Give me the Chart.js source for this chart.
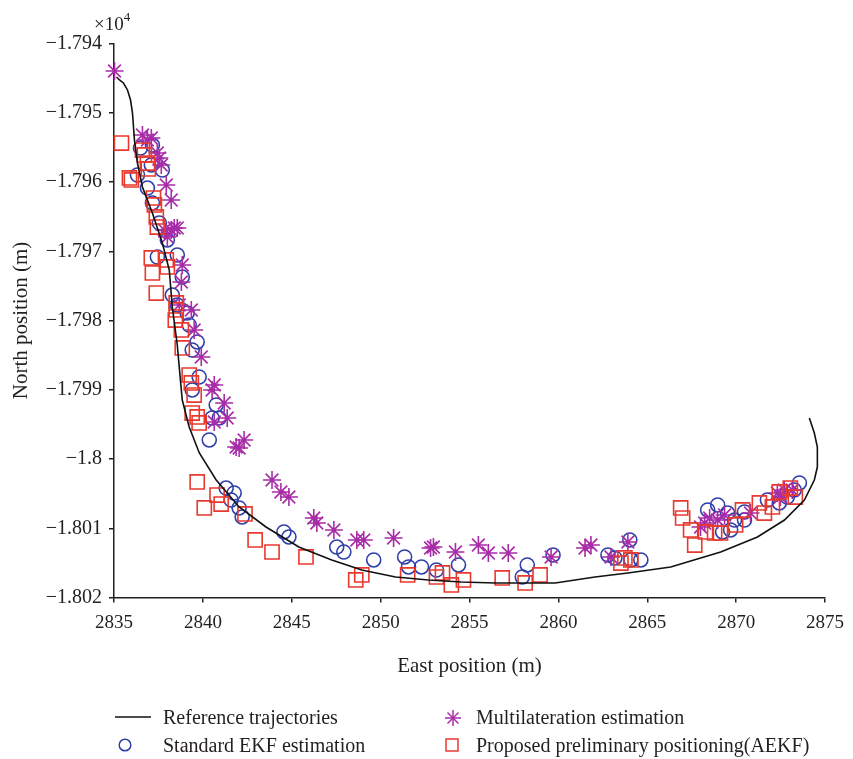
<!DOCTYPE html>
<html>
<head>
<meta charset="utf-8">
<title>Positioning estimates</title>
<script src="https://cdn.jsdelivr.net/npm/chart.js@4"></script>
<style>
  html, body { margin: 0; padding: 0; background: #fff; }
  #wrap { position: relative; width: 853px; height: 759px; font-family: "Liberation Serif", serif; color: #231f20; }
  #plot { position: absolute; left: 0; top: 0; }
  .exp { position: absolute; left: 94px; top: 8px; font-size: 19px; line-height: 22px; }
  .exp sup { font-size: 13px; position: relative; top: -2px; }
  .leg { position: absolute; font-size: 20px; line-height: 20px; white-space: nowrap; }
  .icon { position: absolute; }
</style>
</head>
<body>
<div id="wrap">
  <canvas id="plot" width="853" height="759"></canvas>
  <div class="exp">×10<sup>4</sup></div>

  <svg class="icon" style="left:114px;top:710px" width="38" height="14"><line x1="1" y1="7" x2="37" y2="7" stroke="#111" stroke-width="1.6"/></svg>
  <div class="leg" style="left:163px;top:707px">Reference trajectories</div>

  <svg class="icon" style="left:443px;top:708px" width="20" height="20">
    <g stroke="#a82ca8" stroke-width="1.5"><line x1="10" y1="2" x2="10" y2="18"/><line x1="2" y1="10" x2="18" y2="10"/><line x1="4.5" y1="4.5" x2="15.5" y2="15.5"/><line x1="15.5" y1="4.5" x2="4.5" y2="15.5"/></g>
  </svg>
  <div class="leg" style="left:476px;top:707px">Multilateration estimation</div>

  <svg class="icon" style="left:116px;top:736px" width="18" height="18"><circle cx="9" cy="9" r="5.8" fill="none" stroke="#2f3fa8" stroke-width="1.5"/></svg>
  <div class="leg" style="left:163px;top:735px">Standard EKF estimation</div>

  <svg class="icon" style="left:443px;top:736px" width="18" height="18"><rect x="3" y="3" width="12" height="12" fill="none" stroke="#e8392e" stroke-width="1.5"/></svg>
  <div class="leg" style="left:476px;top:735px">Proposed preliminary positioning(AEKF)</div>
</div>

<script>
"use strict";

// ── Axis ticks ─────────────────────────────────────────────
const eastTicks  = [2835, 2840, 2845, 2850, 2855, 2860, 2865, 2870, 2875];
const northTicks = [-17940, -17950, -17960, -17970, -17980, -17990, -18000, -18010, -18020];

// ── Reference trajectory (m) ───────────────────────────────
const refEast = [
  2835.14, 2835.31, 2835.53, 2835.76, 2835.93, 2836.04, 2836.15, 2836.32, 2836.60, 2837.16,
  2837.72, 2838.11, 2838.28, 2838.45, 2838.56, 2838.67, 2838.84, 2839.23, 2839.80, 2840.75,
  2842.04, 2843.55, 2845.40, 2847.25, 2848.94, 2850.84, 2852.69, 2854.54, 2856.45, 2859.82,
  2862.06, 2863.91, 2866.32, 2869.13, 2871.20, 2872.72, 2873.84, 2874.40, 2874.57, 2874.57,
  2874.40, 2874.12
];
const refNorth = [
  -17944.84, -17945.27, -17945.70, -17946.71, -17948.16, -17950.04, -17953.94, -17957.26, -17960.72, -17964.48,
  -17968.81, -17972.71, -17978.05, -17981.37, -17983.54, -17986.72, -17991.48, -17995.38, -17999.13, -18003.03,
  -18006.93, -18009.82, -18012.71, -18014.58, -18016.03, -18017.04, -18017.47, -18017.76, -18017.91, -18017.91,
  -18017.04, -18016.46, -18015.60, -18013.43, -18011.26, -18008.81, -18005.92, -18003.03, -18001.16, -17998.27,
  -17996.25, -17994.08
];

// ── Standard EKF estimation ────────────────────────────────
const ekfEast = [
  2836.49, 2837.16, 2837.10, 2837.72, 2836.32, 2836.88, 2837.16, 2837.55, 2838.00, 2837.44,
  2838.56, 2838.84, 2838.28, 2838.56, 2839.12, 2839.23, 2839.68, 2839.40, 2839.79, 2839.40,
  2840.75, 2840.52, 2840.92, 2840.36, 2841.31, 2841.76, 2841.59, 2842.04, 2842.21, 2844.56,
  2844.84, 2847.53, 2847.93, 2849.61, 2851.35, 2851.57, 2852.30, 2853.14, 2854.38, 2858.25,
  2857.97, 2859.70, 2862.79, 2863.18, 2864.02, 2864.64, 2864.08, 2868.40, 2868.96, 2869.52,
  2869.91, 2870.47, 2870.47, 2869.24, 2872.43, 2872.88, 2873.56, 2873.27, 2871.76, 2869.69
];
const ekfNorth = [
  -17955.09, -17954.66, -17957.54, -17958.27, -17958.99, -17960.87, -17963.03, -17965.92, -17968.37, -17970.83,
  -17970.54, -17973.72, -17976.32, -17977.76, -17978.92, -17980.65, -17983.10, -17984.26, -17988.16, -17990.03,
  -17992.20, -17994.08, -17994.08, -17997.25, -18004.19, -18004.91, -18005.92, -18007.07, -18008.37, -18010.54,
  -18011.26, -18012.71, -18013.43, -18014.58, -18014.15, -18015.59, -18015.59, -18016.03, -18015.30, -18015.30,
  -18017.04, -18013.86, -18013.86, -18014.29, -18011.69, -18014.58, -18014.58, -18007.36, -18006.64, -18007.80,
  -18008.81, -18008.81, -18007.65, -18010.54, -18006.35, -18005.49, -18003.46, -18004.47, -18005.92, -18010.25
];

// ── Multilateration estimation ─────────────────────────────
const mlatEast = [
  2835.03, 2836.60, 2837.10, 2836.88, 2837.55, 2837.66, 2837.94, 2838.22, 2838.39, 2838.56,
  2838.00, 2838.22, 2838.84, 2838.79, 2838.67, 2839.35, 2839.51, 2839.91, 2840.64, 2840.52,
  2841.20, 2841.37, 2840.64, 2841.87, 2842.32, 2842.04, 2843.89, 2844.39, 2844.84, 2846.24,
  2846.41, 2847.37, 2848.66, 2849.05, 2850.73, 2852.81, 2852.97, 2854.21, 2855.50, 2856.06,
  2857.18, 2859.59, 2861.50, 2861.83, 2862.96, 2863.91, 2868.23, 2868.00, 2868.96, 2869.35,
  2870.81, 2872.32, 2872.71, 2873.16, 2872.49, 2868.51, 2837.44, 2837.83
];
const mlatNorth = [
  -17943.97, -17953.21, -17953.65, -17953.93, -17956.53, -17957.54, -17960.43, -17962.60, -17966.64, -17966.64,
  -17967.94, -17966.93, -17971.98, -17974.44, -17977.76, -17978.48, -17981.37, -17985.27, -17989.31, -17990.03,
  -17991.91, -17994.08, -17994.66, -17998.27, -17997.25, -17998.41, -18003.03, -18004.76, -18005.49, -18008.52,
  -18009.24, -18010.25, -18011.69, -18011.69, -18011.41, -18012.85, -18012.71, -18013.43, -18012.42, -18013.57,
  -18013.57, -18014.15, -18012.85, -18012.42, -18014.15, -18011.98, -18009.24, -18009.82, -18008.81, -18008.09,
  -18007.80, -18004.91, -18004.47, -18004.47, -18005.49, -18008.52, -17955.81, -17966.93
];

// ── Proposed preliminary positioning (AEKF) ────────────────
const aekfEast = [
  2835.42, 2836.60, 2836.71, 2836.88, 2836.93, 2835.87, 2835.98, 2837.22, 2837.27, 2837.38,
  2837.44, 2837.10, 2837.94, 2838.00, 2837.16, 2837.38, 2838.50, 2838.45, 2838.79, 2838.84,
  2839.23, 2839.35, 2839.51, 2839.40, 2839.68, 2839.79, 2839.68, 2840.80, 2840.08, 2841.03,
  2842.37, 2842.94, 2843.89, 2845.80, 2848.60, 2848.94, 2851.52, 2853.14, 2853.48, 2853.98,
  2854.66, 2856.84, 2858.13, 2858.97, 2863.52, 2863.74, 2866.88, 2866.99, 2867.44, 2867.67,
  2868.28, 2868.79, 2869.12, 2869.97, 2870.36, 2871.31, 2871.59, 2872.04, 2872.43, 2873.05,
  2873.33, 2864.08, 2838.50
];
const aekfNorth = [
  -17954.37, -17955.38, -17956.10, -17957.26, -17958.12, -17959.42, -17959.71, -17962.31, -17963.32, -17965.05,
  -17966.50, -17970.97, -17971.26, -17972.27, -17973.14, -17976.03, -17978.48, -17979.93, -17981.37, -17983.97,
  -17987.87, -17989.02, -17990.76, -17993.36, -17993.93, -17994.80, -18003.32, -18005.20, -18007.07, -18006.50,
  -18007.94, -18011.69, -18013.43, -18014.15, -18017.47, -18016.75, -18016.75, -18017.04, -18016.46, -18018.19,
  -18017.47, -18017.18, -18017.90, -18016.75, -18015.02, -18014.29, -18007.07, -18008.52, -18010.25, -18012.42,
  -18010.54, -18010.68, -18010.68, -18009.53, -18007.36, -18006.35, -18007.80, -18006.93, -18004.76, -18004.19,
  -18005.49, -18014.58, -17977.47
];

// ── Style ──────────────────────────────────────────────────
const SERIF = "'Liberation Serif', serif";
const TXT   = "#231f20";
const AXIS  = "#231f20";
const BLUE  = "#2f3fa8";
const MAG   = "#a82ca8";
const RED   = "#e8392e";

function el(id) { return document.getElementById(id); }
const pts = (xs, ys) => xs.map((x, i) => ({ x, y: ys[i] }));
// -1.794e4 style labels, with a real minus sign
const fmtNorth = (v) => (parseFloat((v / 1e4).toFixed(4)) + "").replace("-", "\u2212");
const fmtEast  = (v) => String(v);

const markerSet = (label, data, style, radius, color, order) => ({
  label, data, order,
  pointStyle: style,
  pointRadius: radius,
  pointHoverRadius: radius,
  pointBorderColor: color,
  pointBackgroundColor: "rgba(0,0,0,0)",
  pointBorderWidth: 1.6,
  showLine: false,
  clip: false,
});

new Chart(el("plot"), {
  type: "scatter",
  data: {
    datasets: [
      {
        label: "Reference trajectories",
        data: pts(refEast, refNorth),
        showLine: true,
        borderColor: "#111",
        borderWidth: 1.6,
        pointRadius: 0,
        tension: 0,
        order: 0,
        clip: false,
      },
      markerSet("Proposed preliminary positioning(AEKF)", pts(aekfEast, aekfNorth), "rect", 10, RED, 1),
      markerSet("Multilateration estimation", pts(mlatEast, mlatNorth), "star", 9, MAG, 2),
      markerSet("Standard EKF estimation", pts(ekfEast, ekfNorth), "circle", 7, BLUE, 3),
    ],
  },
  options: {
    responsive: false,
    animation: false,
    devicePixelRatio: 1,
    layout: { padding: { top: 43.5, right: 25, bottom: 71.5, left: 0 } },
    plugins: { legend: { display: false }, tooltip: { enabled: false } },
    scales: {
      x: {
        type: "linear",
        min: 2835,
        max: 2875,
        afterBuildTicks: (s) => { s.ticks = eastTicks.map((v) => ({ value: v })); },
        afterFit: (s) => { s.height = 90; },
        grid: { drawOnChartArea: false, drawTicks: true, tickLength: 5, color: AXIS, lineWidth: 1.5 },
        border: { color: AXIS, width: 1.5 },
        ticks: { font: { family: SERIF, size: 19 }, color: TXT, padding: 9, maxRotation: 0, callback: fmtEast },
        title: {
          display: true, text: "East position (m)", color: TXT,
          font: { family: SERIF, size: 21 }, padding: { top: 0, bottom: 8 },
        },
      },
      y: {
        type: "linear",
        min: -18020,
        max: -17940,
        afterBuildTicks: (s) => { s.ticks = northTicks.map((v) => ({ value: v })); },
        afterFit: (s) => { s.width = 114; },
        grid: { drawOnChartArea: false, drawTicks: true, tickLength: 5, color: AXIS, lineWidth: 1.5 },
        border: { color: AXIS, width: 1.5 },
        ticks: { font: { family: SERIF, size: 20 }, color: TXT, padding: 7, callback: fmtNorth },
        title: {
          display: true, text: "North position (m)", color: TXT,
          font: { family: SERIF, size: 21 }, padding: { top: 9, bottom: 0 },
        },
      },
    },
  },
});
</script>
</body>
</html>
